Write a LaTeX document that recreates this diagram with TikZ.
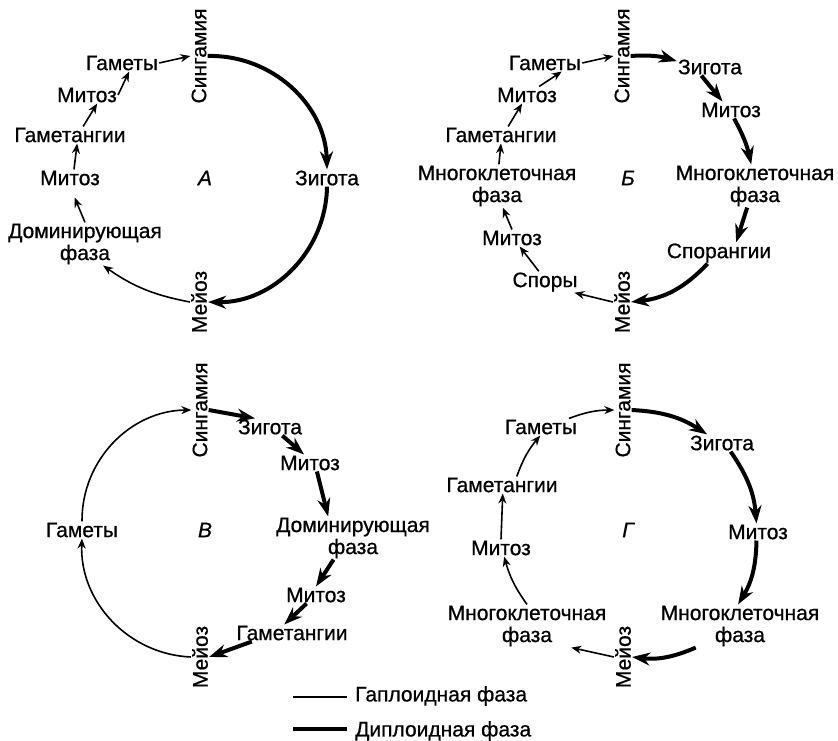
\documentclass[tikz,border=0pt]{standalone}
\usepackage{fontspec}
\setmainfont[FakeBold=0.7]{Liberation Sans}
\usetikzlibrary{arrows.meta}
\begin{document}
\begin{tikzpicture}[x=1pt,y=1pt,
  every node/.style={font=\fontsize{21}{22}\selectfont, inner sep=1pt, align=center},
  rot/.style={rotate=90},
  panel/.style={font=\fontsize{21}{22}\selectfont\itshape},
  hap/.style={line width=1.6pt, -{Stealth[length=10pt,width=8pt]}},
  dip/.style={line width=4pt, -{Stealth[length=18pt,width=13pt]}},
  hapline/.style={line width=2pt},
  dipline/.style={line width=4pt}]
\useasboundingbox[fill=white] (0,0) rectangle (838,741);

% ---------- A ----------
\node[rot] (synA) at (199,685) {Сингамия};
\node[rot] (meiA) at (199,439) {Мейоз};
\node (zygA) at (327,563) {Зигота};
\node[panel] (labA) at (205,563) {А};
\node (gamA) at (122,678) {Гаметы};
\node (mt1A) at (87,646) {Митоз};
\node (gtgA) at (70,606) {Гаметангии};
\node (mt2A) at (70,563) {Митоз};
\node (domA) at (85,497) {Доминирующая\\фаза};

\draw[dip] (synA.south) to[bend left=45] (zygA.north);
\draw[dip] (zygA.south) to[bend left=45] (meiA.south);
\draw[hap] (meiA.north) to[bend left=12] (domA.-50);
\draw[hap, shorten >=12pt] (domA.north) -- (mt2A.south);
\draw[hap] (mt2A.65) -- (gtgA.-50);
\draw[hap] (gtgA.33) -- (mt1A.-40);
\draw[hap] (mt1A.east) -- (gamA.-50);
\draw[hap] (gamA.east) -- (synA.north);

% ---------- B ----------
\node[rot] (synB) at (622,685) {Сингамия};
\node[rot] (meiB) at (622,439) {Мейоз};
\node[panel] (labB) at (628,563) {Б};
\node (gamB) at (545,678) {Гаметы};
\node (zygB) at (710,674) {Зигота};
\node (mtRB) at (731,631) {Митоз};
\node (mcRB) at (755,555) {Многоклеточная\\фаза};
\node (spgB) at (719,488) {Спорангии};
\node (sprB) at (545,459) {Споры};
\node (mtLB) at (512,503) {Митоз};
\node (mcLB) at (497,555) {Многоклеточная\\фаза};
\node (gtgB) at (501,606) {Гаметангии};
\node (mtTB) at (527,646) {Митоз};

\draw[hap] (gamB.east) -- (synB.north);
\draw[dip] (synB.south) to[bend left=10] (zygB.170);
\draw[dip] (zygB.-135) -- (mtRB.135);
\draw[dip] (mtRB.-70) to[bend left=8] (mcRB.100);
\draw[dip] (mcRB.-110) -- (spgB.32);
\draw[dip] (spgB.-137) to[bend left=20] (meiB.south);
\draw[hap] (meiB.north) -- (sprB.-20);
\draw[hap] (sprB.120) -- (mtLB.-48);
\draw[hap] (mtLB.north) -- (mcLB.-75);
\draw[hap] (mcLB.85) -- (gtgB.south);
\draw[hap] (gtgB.50) -- (mtTB.-120);
\draw[hap] (mtTB.35) -- (gamB.-27);

% ---------- V ----------
\node[rot] (synC) at (200,331) {Сингамия};
\node[rot] (meiC) at (200,84) {Мейоз};
\node[panel] (labC) at (205,211) {В};
\node (gamC) at (82,211) {Гаметы};
\node (zygC) at (270,314) {Зигота};
\node (mt1C) at (310,278) {Митоз};
\node (domC) at (353,203) {Доминирующая\\фаза};
\node (mt2C) at (316,146) {Митоз};
\node (gtgC) at (292,108) {Гаметангии};

\draw[hap] (gamC.north) to[bend left=45] (synC.north);
\draw[hap] (meiC.north) to[bend left=45] (gamC.south);
\draw[dip] (synC.south) -- (zygC.150);
\draw[dip] (zygC.-35) -- (mt1C.125);
\draw[dip] (mt1C.-51) -- (domC.139);
\draw[dip] (domC.-132) -- (mt2C.north);
\draw[dip] (mt2C.-138) -- (gtgC.132);
\draw[dip] (gtgC.-168) -- (meiC.south);

% ---------- G ----------
\node[rot] (synD) at (623,331) {Сингамия};
\node[rot] (meiD) at (623,84) {Мейоз};
\node[panel] (labD) at (628,211) {Г};
\node (gamD) at (541,314) {Гаметы};
\node (zygD) at (722,298) {Зигота};
\node (mtRD) at (758,209) {Митоз};
\node (mcRD) at (740,115) {Многоклеточная\\фаза};
\node (mcLD) at (527,115) {Многоклеточная\\фаза};
\node (mtLD) at (501,193) {Митоз};
\node (gtgD) at (502,256) {Гаметангии};

\draw[hap] (gamD.17) to[bend left=10] (synD.north);
\draw[dip] (synD.south) to[bend left=15] (zygD.150);
\draw[dip] (zygD.-45) to[bend left=15] (mtRD.100);
\draw[dip] (mtRD.-100) to[bend left=15] (mcRD.95);
\draw[dip] (mcRD.-154) to[bend left=15] (meiD.south);
\draw[hap] (meiD.north) -- (mcLD.-26);
\draw[hap] (mcLD.north) to[bend left=10] (mtLD.-70);
\draw[hap] (mtLD.north) -- (gtgD.-85);
\draw[hap] (gtgD.30) to[bend left=10] (gamD.-95);

% ---------- legend ----------
\coordinate (h1) at (293,44);
\coordinate (h2) at (347,44);
\draw[hapline] (h1) -- (h2);
\node[anchor=west] (hapT) at (354,45) {Гаплоидная фаза};
\coordinate (d1) at (293,12);
\coordinate (d2) at (347,12);
\draw[dipline] (d1) -- (d2);
\node[anchor=west] (dipT) at (354,10) {Диплоидная фаза};
\end{tikzpicture}
\end{document}
